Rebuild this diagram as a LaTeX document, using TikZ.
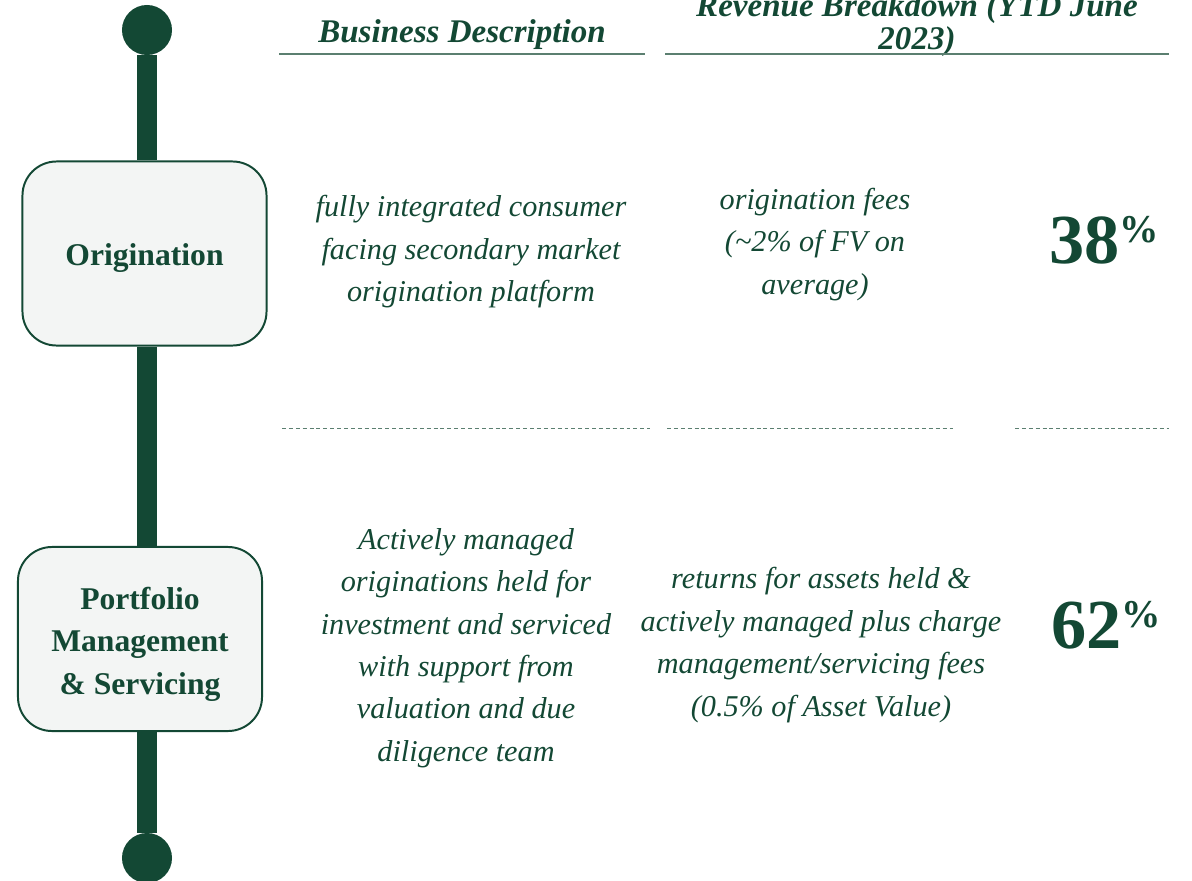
\documentclass[tikz,border=0pt]{standalone}
\usepackage{fontspec}
\setmainfont{Liberation Serif}

\definecolor{pine}{HTML}{134834}
\definecolor{sage}{HTML}{5B7F70}
\definecolor{mist}{HTML}{F3F5F4}

% raised percent sign next to a big share figure
\newcommand{\pcsign}{\raisebox{15pt}{\fontsize{28}{28}\selectfont\%}}

\begin{document}
\begin{tikzpicture}[x=0.025cm,y=-0.025cm,
    stage/.style={draw=pine,line width=1.4pt,fill=mist,rounded corners=0.85cm,
      minimum width=6.1cm,minimum height=4.6cm},
    stagetext/.style={text=pine,align=center,yshift=-3.5pt,
      font=\bfseries\fontsize{22.5}{30.2}\selectfont},
    knob/.style={circle,fill=pine,minimum size=1.25cm,inner sep=0pt},
    spine/.style={pine,line width=14.9pt},
    head/.style={text=pine,align=center,font=\bfseries\itshape\fontsize{23.5}{23.5}\selectfont},
    body/.style={text=pine,align=center,font=\itshape\fontsize{21.5}{30.2}\selectfont},
    share/.style={text=pine,font=\bfseries\fontsize{50}{50}\selectfont},
    rule/.style={sage,line width=1.4pt},
    split/.style={sage,line width=0.7pt,dash pattern=on 2.8pt off 2.1pt}]
    \useasboundingbox (0,0) rectangle (1192,881);

    % timeline with its two stages
    \path (147,  30) node [knob] (top) {};
    \path (147, 858) node [knob] (bottom) {};
    \path (144.5,253.5) node [stage,label={[stagetext]center:Origination}] (orig) {};
    \path (140, 639) node [stage,label={[stagetext]center:Portfolio\\Management\\\&~Servicing}] (port) {};
    \draw [spine] (top) -- (top |- orig.north);
    \draw [spine] (top |- orig.south) -- (top |- port.north);
    \draw [spine] (top |- port.south) -- (bottom);

    % column headings
    \path (462,  35) node [head] (deschead) {Business Description};
    \path (917,  25) node [head] (revhead) {Revenue Breakdown (YTD June\\2023)};
    \draw [rule] (279,54) -- (645,54);
    \draw [rule] (665,54) -- (1169,54);

    % origination row
    \path (471, 252) node [body] (origdesc) {fully integrated consumer\\facing secondary market\\origination platform};
    \path (815, 244.5) node [body] (origrev) {origination fees\\(\textasciitilde2\% of FV on\\average)};
    \path (1104,240) node [share] (origshare) {38\pcsign};

    % row separator
    \draw [split] (282,428) -- (650,428);
    \draw [split] (667,428) -- (953,428);
    \draw [split] (1015,428) -- (1169,428);

    % portfolio row
    \path (466, 648) node [body] (portdesc) {Actively managed\\originations held for\\investment and serviced\\with support from\\valuation and due\\diligence team};
    \path (821, 645) node [body] (portrev) {returns for assets held \&\\actively managed plus charge\\management/servicing fees\\(0.5\% of Asset Value)};
    \path (1106,625) node [share] (portshare) {62\pcsign};
\end{tikzpicture}
\end{document}
